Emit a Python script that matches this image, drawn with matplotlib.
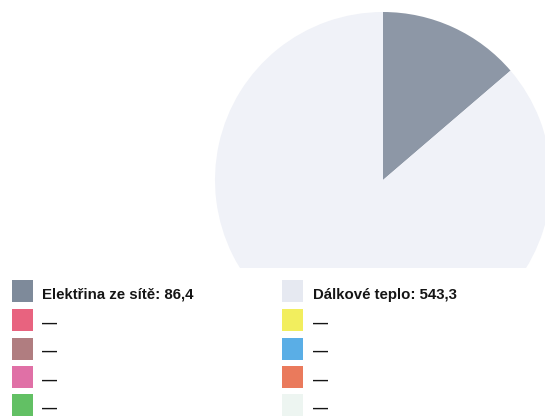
import matplotlib
matplotlib.use("Agg")
import matplotlib.pyplot as plt
from matplotlib.patches import Rectangle

W, H = 545, 416

# data
pie_labels = ["Elektřina ze sítě", "Dálkové teplo"]
pie_values = [86.4, 543.3]
pie_colors = ["#8d97a6", "#f0f2f8"]

legend_left_labels = ["Elektřina ze sítě: 86,4", "—", "—", "—", "—"]
legend_left_colors = ["#7e8a9a", "#e8637f", "#b07d80", "#e070a6", "#62c064"]
legend_right_labels = ["Dálkové teplo: 543,3", "—", "—", "—", "—"]
legend_right_colors = ["#e6e9f1", "#f2ee5e", "#5aaee6", "#ea7a5c", "#edf5f1"]

fig = plt.figure(figsize=(W / 100, H / 100), dpi=100)
fig.patch.set_facecolor("white")

cx, cy, r = 383, 180, 168
ax = fig.add_axes([(cx - r) / W, (H - cy - r) / H, 2 * r / W, 2 * r / H])
ax.pie(pie_values, colors=pie_colors, startangle=90, counterclock=False,
       wedgeprops=dict(linewidth=0))
ax.set_xlim(-1, 1)
ax.set_ylim(-1, 1)
ax.set_aspect("equal")
ax.axis("off")

# legend background covering lower part of the pie
fig.patches.append(Rectangle((0, 0), 1, (H - 268) / H, transform=fig.transFigure,
                             facecolor="white", edgecolor="none", zorder=5))

row_y = [291, 320, 348.5, 377, 405]
sq_w, sq_h = 21, 22

def draw_col(x_sq, x_txt, labels, colors):
    for yc, lab, col in zip(row_y, labels, colors):
        fig.patches.append(Rectangle((x_sq / W, (H - yc - sq_h / 2) / H), sq_w / W, sq_h / H,
                                     transform=fig.transFigure, facecolor=col,
                                     edgecolor="none", zorder=6))
        fig.text(x_txt / W, (H - yc - 3.5) / H, lab, ha="left", va="center",
                 fontsize=10.8, fontweight="bold", family="Liberation Sans",
                 color="#151515", zorder=7)

draw_col(12, 42, legend_left_labels, legend_left_colors)
draw_col(282, 313, legend_right_labels, legend_right_colors)

fig.savefig("out.png", dpi=100, facecolor="white")
